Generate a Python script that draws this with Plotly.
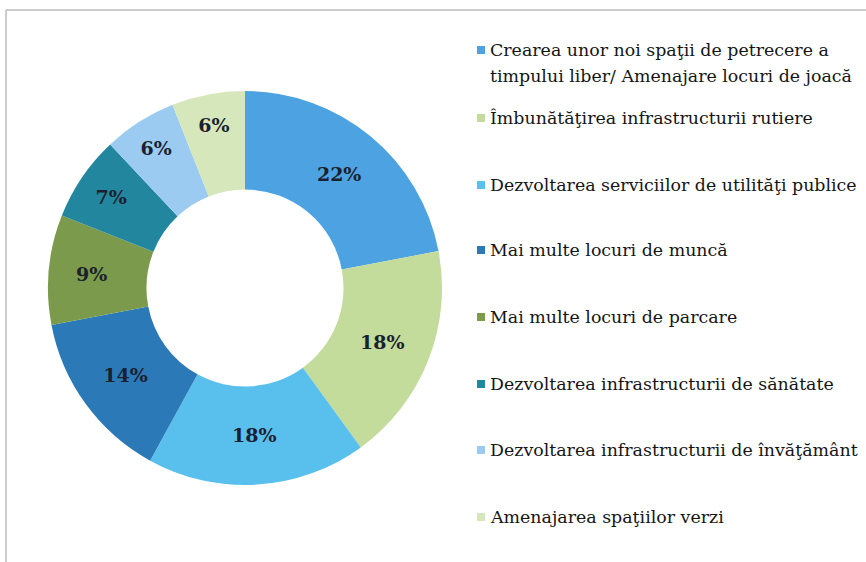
import plotly.graph_objects as go

# Survey priorities (share of respondents, %)
categories = [
    "Crearea unor noi spaţii de petrecere a<br>timpului liber/ Amenajare locuri de joacă",
    "Îmbunătăţirea infrastructurii rutiere",
    "Dezvoltarea serviciilor de utilităţi publice",
    "Mai multe locuri de muncă",
    "Mai multe locuri de parcare",
    "Dezvoltarea infrastructurii de sănătate",
    "Dezvoltarea infrastructurii de învăţământ",
    "Amenajarea spaţiilor verzi",
]
values = [22, 18, 18, 14, 9, 7, 6, 6]
colors = ["#4da3e2", "#c3db9b", "#59bfec", "#2b79b6",
          "#7c9a4b", "#22879e", "#9ccbf1", "#d6e7bb"]

W, H = 866, 562
cx, cy, r = 245, 288, 197

fig = go.Figure(go.Pie(
    labels=[c.replace("<br>", " ") for c in categories],
    values=values,
    hole=0.5,
    sort=False,
    direction="clockwise",
    rotation=0,
    marker=dict(colors=colors, line=dict(width=0)),
    texttemplate="%{value}%",
    textposition="inside",
    insidetextorientation="horizontal",
    textfont=dict(family="DejaVu Serif", size=19, color="#1b1f30", weight="bold"),
    domain=dict(x=[(cx - r) / W, (cx + r) / W],
                y=[(H - cy - r) / H, (H - cy + r) / H]),
    showlegend=False,
    hoverinfo="label+percent",
))

# Hand-laid legend: square swatch + label lines for each category
legend_y = [50, 118, 185, 250, 317, 384, 450, 517]
line_gap = 26
shapes = []
annotations = []
for name, col, y in zip(categories, colors, legend_y):
    shapes.append(dict(
        type="rect", xref="paper", yref="paper",
        x0=477 / W, x1=485 / W,
        y0=1 - (y + 4) / H, y1=1 - (y - 4) / H,
        fillcolor=col, line=dict(width=0),
    ))
    for k, line in enumerate(name.split("<br>")):
        annotations.append(dict(
            x=488 / W, y=1 - (y + k * line_gap) / H, xref="paper", yref="paper",
            xanchor="left", yanchor="middle", align="left",
            text=line, showarrow=False,
            font=dict(family="DejaVu Serif", size=17.4, color="#151515"),
        ))

# Outer frame (top and left edges visible)
shapes.append(dict(
    type="rect", xref="paper", yref="paper",
    x0=6 / W, x1=1.02, y0=-0.02, y1=1 - 10 / H,
    line=dict(color="#9a9a9a", width=1), fillcolor="rgba(0,0,0,0)",
))

fig.update_layout(
    width=W, height=H,
    margin=dict(l=0, r=0, t=0, b=0),
    paper_bgcolor="white",
    plot_bgcolor="white",
    shapes=shapes,
    annotations=annotations,
)

fig.write_html("out.html")
